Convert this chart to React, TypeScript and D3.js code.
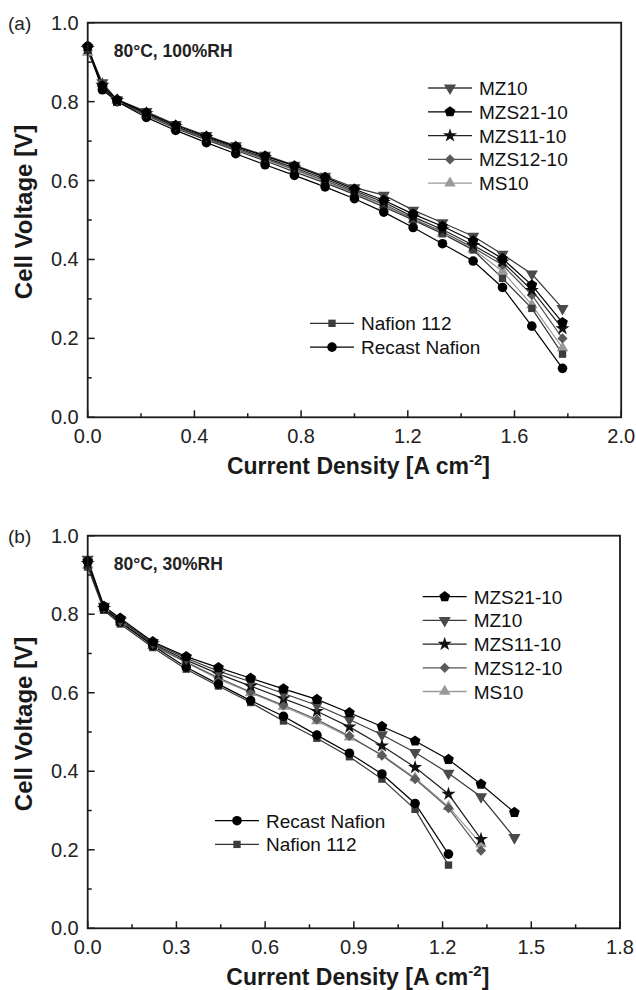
import React from "react";
import * as d3 from "d3";

// ---------- Data ----------
const xA = [0, 0.055, 0.11, 0.22, 0.33, 0.445, 0.555, 0.665, 0.775, 0.89, 1.0, 1.11, 1.22, 1.33, 1.445, 1.555, 1.665, 1.78];
const aMZ10 = [0.935, 0.848, 0.805, 0.775, 0.742, 0.714, 0.688, 0.664, 0.639, 0.611, 0.582, 0.563, 0.525, 0.493, 0.459, 0.413, 0.363, 0.276];
const aMZS21 = [0.94, 0.84, 0.805, 0.772, 0.74, 0.712, 0.686, 0.662, 0.637, 0.608, 0.578, 0.55, 0.515, 0.484, 0.447, 0.402, 0.335, 0.24];
const aMZS11 = [0.935, 0.842, 0.803, 0.77, 0.737, 0.709, 0.683, 0.658, 0.632, 0.604, 0.574, 0.545, 0.508, 0.476, 0.436, 0.394, 0.322, 0.225];
const aMZS12 = [0.93, 0.838, 0.802, 0.768, 0.735, 0.707, 0.68, 0.655, 0.628, 0.6, 0.57, 0.54, 0.503, 0.47, 0.43, 0.386, 0.31, 0.2];
const aMS10 = [0.925, 0.845, 0.803, 0.768, 0.735, 0.706, 0.679, 0.654, 0.627, 0.598, 0.568, 0.537, 0.5, 0.466, 0.426, 0.37, 0.285, 0.176];
const aNafion = [0.93, 0.835, 0.8, 0.765, 0.732, 0.703, 0.676, 0.65, 0.622, 0.594, 0.565, 0.533, 0.5, 0.465, 0.424, 0.352, 0.276, 0.16];
const aRecast = [0.94, 0.83, 0.8, 0.76, 0.727, 0.696, 0.668, 0.64, 0.613, 0.584, 0.554, 0.52, 0.481, 0.44, 0.396, 0.329, 0.231, 0.124];

const xB = [0, 0.055, 0.11, 0.22, 0.333, 0.442, 0.551, 0.662, 0.775, 0.885, 0.995, 1.107, 1.22, 1.33, 1.443];
const bMZS21 = [0.935, 0.82, 0.79, 0.73, 0.692, 0.664, 0.637, 0.61, 0.583, 0.549, 0.514, 0.477, 0.43, 0.367, 0.295];
const bMZ10 = [0.94, 0.82, 0.785, 0.728, 0.688, 0.655, 0.628, 0.598, 0.568, 0.532, 0.493, 0.448, 0.395, 0.335, 0.231];
const bMZS11 = [0.93, 0.815, 0.785, 0.725, 0.683, 0.648, 0.617, 0.585, 0.553, 0.513, 0.465, 0.41, 0.342, 0.227];
const bMZS12 = [0.93, 0.815, 0.78, 0.722, 0.678, 0.638, 0.602, 0.568, 0.532, 0.49, 0.44, 0.38, 0.306, 0.198];
const bMS10 = [0.925, 0.815, 0.78, 0.72, 0.677, 0.635, 0.6, 0.565, 0.528, 0.487, 0.442, 0.383, 0.31, 0.215];
const bRecast = [0.935, 0.815, 0.78, 0.72, 0.665, 0.622, 0.58, 0.54, 0.492, 0.446, 0.393, 0.318, 0.189];
const bNafion = [0.92, 0.81, 0.775, 0.715, 0.66, 0.617, 0.575, 0.528, 0.484, 0.437, 0.38, 0.303, 0.161];

const xTicksA = [0, 0.4, 0.8, 1.2, 1.6, 2.0];
const xMinorA = [0.2, 0.6, 1.0, 1.4, 1.8];
const xTicksB = [0, 0.3, 0.6, 0.9, 1.2, 1.5, 1.8];
const xMinorB = [0.15, 0.45, 0.75, 1.05, 1.35, 1.65];
const yTicks = [0, 0.2, 0.4, 0.6, 0.8, 1.0];
const yMinor = [0.1, 0.3, 0.5, 0.7, 0.9];

// ---------- Styles ----------
const FONT = "'Liberation Sans', Arial, Helvetica, sans-serif";

const pentagon = {
  draw(ctx: any, size: number) {
    const r = Math.sqrt(size / 2.378);
    for (let i = 0; i < 5; i++) {
      const a = -Math.PI / 2 + (i * 2 * Math.PI) / 5;
      const px = r * Math.cos(a), py = r * Math.sin(a);
      if (i === 0) ctx.moveTo(px, py); else ctx.lineTo(px, py);
    }
    ctx.closePath();
  },
};

type Style = { name: string; line: string; fill: string; sym: any; size: number; rot: number };
const S: Record<string, Style> = {
  MZ10: { name: "MZ10", line: "#3a3a3a", fill: "#4a4a4a", sym: d3.symbolTriangle, size: 64, rot: 180 },
  MZS21: { name: "MZS21-10", line: "#000", fill: "#000", sym: pentagon, size: 76, rot: 0 },
  MZS11: { name: "MZS11-10", line: "#222", fill: "#111", sym: d3.symbolStar, size: 62, rot: 0 },
  MZS12: { name: "MZS12-10", line: "#555", fill: "#5a5a5a", sym: d3.symbolSquare, size: 52, rot: 45 },
  MS10: { name: "MS10", line: "#9a9a9a", fill: "#999", sym: d3.symbolTriangle, size: 58, rot: 0 },
  Nafion: { name: "Nafion 112", line: "#333", fill: "#3c3c3c", sym: d3.symbolSquare, size: 54, rot: 0 },
  Recast: { name: "Recast Nafion", line: "#000", fill: "#000", sym: d3.symbolCircle, size: 72, rot: 0 },
};

type Series = { key: string; ys: number[] };

function Marker({ st, x, y }: { st: Style; x: number; y: number }) {
  const d = d3.symbol().type(st.sym).size(st.size)() as string;
  return <path d={d} transform={`translate(${x},${y}) rotate(${st.rot})`} fill={st.fill} stroke="none" />;
}

function Panel(props: {
  top: number; bottom: number; left: number; right: number; xMax: number;
  xs: number[]; series: Series[]; xTicks: number[]; xMinor: number[]; xFmt: (v: number) => string;
  label: string; note: string;
  legUpper: string[]; legLower: string[];
  legUX: number; legUY: number; legLX: number; legLY: number; legStep: number;
}) {
  const { top, bottom, left, right } = props;
  const x = d3.scaleLinear().domain([0, props.xMax]).range([left, right]);
  const y = d3.scaleLinear().domain([0, 1]).range([bottom, top]);
  const line = d3.line<number>().x((_, i) => x(props.xs[i])).y((v) => y(v));
  const drawOrder = props.series;
  const legend = (keys: string[], lx: number, ly: number) =>
    keys.map((k, i) => {
      const st = S[k];
      const yy = ly + i * props.legStep;
      return (
        <g key={k}>
          <line x1={lx} x2={lx + 44} y1={yy} y2={yy} stroke={st.line} strokeWidth={1.3} />
          <Marker st={st} x={lx + 22} y={yy} />
          <text x={lx + 51} y={yy + 7} fontSize={19} fontFamily={FONT} fill="#111">{st.name}</text>
        </g>
      );
    });
  return (
    <g>
      {drawOrder.map((s) => (
        <path key={s.key + "l"} d={line(s.ys) as string} fill="none" stroke={S[s.key].line} strokeWidth={1.2} />
      ))}
      {drawOrder.map((s) => (
        <g key={s.key + "m"}>
          {s.ys.map((v, i) => (
            <Marker key={i} st={S[s.key]} x={x(props.xs[i])} y={y(v)} />
          ))}
        </g>
      ))}
      <rect x={left} y={top} width={right - left} height={bottom - top} fill="none" stroke="#1a1a1a" strokeWidth={1.8} />
      {props.xTicks.map((t) => (
        <g key={"xt" + t}>
          <line x1={x(t)} x2={x(t)} y1={bottom} y2={bottom - 7} stroke="#1a1a1a" strokeWidth={1.5} />
          <text x={x(t)} y={bottom + 25.5} fontSize={20} fontFamily={FONT} textAnchor="middle" fill="#222">{props.xFmt(t)}</text>
        </g>
      ))}
      {props.xMinor.map((t) => (
        <line key={"xm" + t} x1={x(t)} x2={x(t)} y1={bottom} y2={bottom - 4} stroke="#1a1a1a" strokeWidth={1.5} />
      ))}
      {yTicks.map((t) => (
        <g key={"yt" + t}>
          <line x1={left} x2={left + 7} y1={y(t)} y2={y(t)} stroke="#1a1a1a" strokeWidth={1.5} />
          <text x={left - 9} y={y(t) + 7} fontSize={20} fontFamily={FONT} textAnchor="end" fill="#222">{d3.format(".1f")(t)}</text>
        </g>
      ))}
      {yMinor.map((t) => (
        <line key={"ym" + t} x1={left} x2={left + 4} y1={y(t)} y2={y(t)} stroke="#1a1a1a" strokeWidth={1.5} />
      ))}
      <text x={8} y={top + 7.5} fontSize={19} fontFamily={FONT} fill="#222">{props.label}</text>
      <text x={left + 26} y={top + 34} fontSize={17.5} fontWeight="bold" fontFamily={FONT} fill="#222">{props.note}</text>
      <text transform={`translate(32,${(top + bottom) / 2 - 8}) rotate(-90)`} textAnchor="middle" fontSize={24} fontWeight="bold" fontFamily={FONT} fill="#1a1a1a">Cell Voltage [V]</text>
      <text x={(left + right) / 2 + 4} y={bottom + 57} textAnchor="middle" fontSize={23} fontWeight="bold" fontFamily={FONT} fill="#1a1a1a">
        Current Density [A cm<tspan dy={-9} fontSize={15}>-2</tspan><tspan dy={9}>]</tspan>
      </text>
      {legend(props.legUpper, props.legUX, props.legUY)}
      {legend(props.legLower, props.legLX, props.legLY)}
    </g>
  );
}

export default function App() {
  const seriesA: Series[] = [
    { key: "MS10", ys: aMS10 },
    { key: "MZS12", ys: aMZS12 },
    { key: "Nafion", ys: aNafion },
    { key: "MZS11", ys: aMZS11 },
    { key: "Recast", ys: aRecast },
    { key: "MZ10", ys: aMZ10 },
    { key: "MZS21", ys: aMZS21 },
  ];
  const seriesB: Series[] = [
    { key: "MS10", ys: bMS10 },
    { key: "MZS12", ys: bMZS12 },
    { key: "Nafion", ys: bNafion },
    { key: "Recast", ys: bRecast },
    { key: "MZS11", ys: bMZS11 },
    { key: "MZ10", ys: bMZ10 },
    { key: "MZS21", ys: bMZS21 },
  ];
  return (
    <svg width={636} height={990} style={{ position: "absolute", left: 0, top: 0, background: "#fff" }}>
      <rect width={636} height={990} fill="#fff" />
      <Panel
        top={22.7} bottom={417.3} left={87.7} right={621.2} xMax={2.0}
        xs={xA} series={seriesA} xTicks={xTicksA} xMinor={xMinorA} xFmt={d3.format(".1f")}
        label="(a)" note="80°C, 100%RH"
        legUpper={["MZ10", "MZS21", "MZS11", "MZS12", "MS10"]} legLower={["Nafion", "Recast"]}
        legUX={428} legUY={88} legLX={310} legLY={323.3} legStep={23.8}
      />
      <Panel
        top={535.7} bottom={928.3} left={87.7} right={620} xMax={1.8}
        xs={xB} series={seriesB} xTicks={xTicksB} xMinor={xMinorB} xFmt={d3.format(".1f")}
        label="(b)" note="80°C, 30%RH"
        legUpper={["MZS21", "MZ10", "MZS11", "MZS12", "MS10"]} legLower={["Recast", "Nafion"]}
        legUX={422.7} legUY={596.7} legLX={215} legLY={820.7} legStep={23.7}
      />
    </svg>
  );
}
